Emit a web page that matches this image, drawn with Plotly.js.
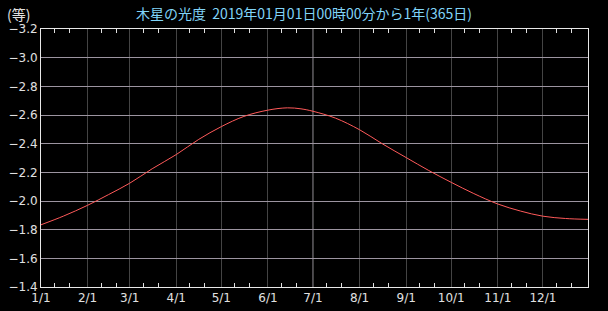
<!DOCTYPE html>
<html>
<head>
<meta charset="utf-8">
<script src="https://cdn.plot.ly/plotly-3.0.1.min.js"></script>
<style>html,body{margin:0;padding:0;background:#000;}#chart{width:608px;height:311px;}</style>
</head>
<body>
<div id="chart"></div>
<script>
// Jupiter apparent magnitude, 2019
const dates = [
  '2019-01-01','2019-01-16','2019-02-01','2019-02-15','2019-03-01','2019-03-16',
  '2019-04-01','2019-04-16','2019-05-01','2019-05-16','2019-06-01','2019-06-14',
  '2019-06-23','2019-07-01','2019-07-16','2019-08-01','2019-08-16','2019-09-01',
  '2019-09-16','2019-10-01','2019-10-16','2019-11-01','2019-11-16','2019-12-01',
  '2019-12-16','2019-12-31'
];
const magnitude = [
  -1.834,-1.895,-1.970,-2.045,-2.124,-2.225,
  -2.324,-2.430,-2.519,-2.590,-2.634,-2.650,
  -2.643,-2.626,-2.578,-2.497,-2.400,-2.303,
  -2.213,-2.130,-2.052,-1.979,-1.930,-1.894,
  -1.878,-1.872
];
const monthTicks = ['2019-01-01','2019-02-01','2019-03-01','2019-04-01','2019-05-01','2019-06-01',
  '2019-07-01','2019-08-01','2019-09-01','2019-10-01','2019-11-01','2019-12-01'];
const monthLabels = ['1/1','2/1','3/1','4/1','5/1','6/1','7/1','8/1','9/1','10/1','11/1','12/1'];
const minorTicks = [];
for (let m = 1; m <= 12; m++) {
  const mm = String(m).padStart(2,'0');
  minorTicks.push('2019-' + mm + '-10', '2019-' + mm + '-20');
}
const yTicks = [-3.2,-3.0,-2.8,-2.6,-2.4,-2.2,-2.0,-1.8,-1.6,-1.4];
const yLabels = ['−3.2','−3.0','−2.8','−2.6','−2.4','−2.2','−2.0','−1.8','−1.6','−1.4'];
const highlightDate = '2019-07-01';
const titleText = '木星の光度  2019年01月01日00時00分から1年(365日)';
const unitText = '(等)';

const font = 'DejaVu Sans, Noto Sans CJK JP, sans-serif';

Plotly.newPlot('chart', [{
  x: dates, y: magnitude, type: 'scatter', mode: 'lines',
  line: {color: '#ff5a5a', width: 1, shape: 'spline', smoothing: 1},
  hoverinfo: 'skip'
}], {
  width: 608, height: 311,
  paper_bgcolor: '#000', plot_bgcolor: '#000',
  margin: {l: 41, r: 20, t: 29, b: 24},
  showlegend: false,
  title: {text: titleText, font: {family: 'Noto Sans CJK JP, sans-serif', size: 14, color: '#80d4f8'},
          x: 0.5, xref: 'container', xanchor: 'center', y: 0.955, yref: 'container', yanchor: 'middle'},
  xaxis: {
    type: 'date', range: ['2019-01-01', '2019-12-31'],
    tickmode: 'array', tickvals: monthTicks, ticktext: monthLabels,
    showgrid: true, gridcolor: '#444444', gridwidth: 1,
    showline: true, linecolor: '#e8e8e8', linewidth: 1, mirror: 'allticks',
    ticks: '', zeroline: false,
    tickfont: {family: font, size: 12, color: '#e0e0e0'},
    minor: {tickmode: 'array', tickvals: minorTicks, ticks: 'inside', ticklen: 4, tickcolor: '#e0e0e0', tickwidth: 1, showgrid: false}
  },
  yaxis: {
    range: [-1.4, -3.2],
    tickmode: 'array', tickvals: yTicks, ticktext: yLabels,
    showgrid: true, gridcolor: '#9c94a0', gridwidth: 1,
    showline: true, linecolor: '#e8e8e8', linewidth: 1, mirror: true,
    ticks: '', zeroline: false,
    tickfont: {family: font, size: 12, color: '#e0e0e0'}
  },
  shapes: [{type: 'line', xref: 'x', yref: 'paper', x0: highlightDate, x1: highlightDate, y0: 0, y1: 1,
            line: {color: '#9c94a0', width: 1}, layer: 'below'}],
  annotations: [{text: unitText, xref: 'paper', yref: 'paper', x: -0.066, y: 1.058,
                 xanchor: 'left', yanchor: 'middle', showarrow: false,
                 font: {family: 'Noto Sans CJK JP, sans-serif', size: 14, color: '#e0e0e0'}}]
}, {displayModeBar: false, staticPlot: true});
</script>
</body>
</html>
